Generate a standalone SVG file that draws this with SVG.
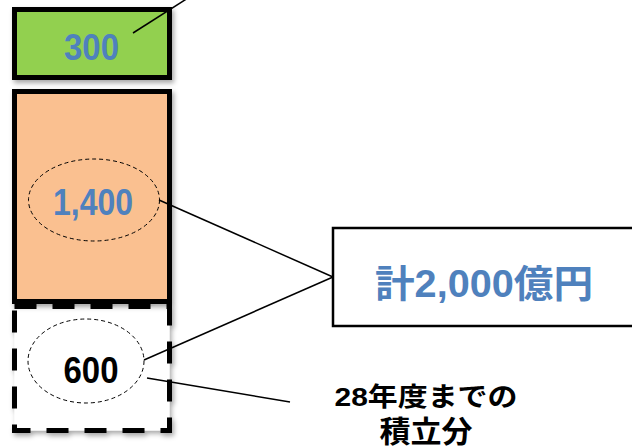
<svg xmlns="http://www.w3.org/2000/svg" width="632" height="448" viewBox="0 0 632 448">
<defs>
<filter id="sh" x="-10%" y="-10%" width="130%" height="130%">
<feDropShadow dx="2" dy="3" stdDeviation="2.5" flood-color="#000" flood-opacity="0.35"/>
</filter>
<style>
.bar{stroke:#000;stroke-width:5}
.oval{fill:none;stroke:#000;stroke-width:1;stroke-dasharray:4 3}
.num{font-family:"Liberation Sans",Arial,sans-serif;font-weight:bold;text-anchor:middle}
.blue{fill:#4F81BD}
.jp{font-family:"Liberation Sans","Noto Sans CJK JP",sans-serif;font-weight:bold;text-anchor:middle}
.con{stroke:#000;stroke-width:1.5;fill:none}
</style>
</defs>
<rect width="632" height="448" fill="#fff"/>
<g id="bar600">
<rect x="14.5" y="306.5" width="155" height="124" fill="#fff" stroke="#000" stroke-width="5" stroke-dasharray="22 16" filter="url(#sh)"/>
<ellipse class="oval" cx="86" cy="361" rx="58" ry="42"/>
<text class="num" x="91" y="383" font-size="36" textLength="55" lengthAdjust="spacingAndGlyphs" fill="#000">600</text>
</g>
<g id="bar1400">
<rect class="bar" x="14.5" y="91.5" width="155" height="210" fill="#FAC090" filter="url(#sh)"/>
<ellipse class="oval" cx="94" cy="200" rx="65.5" ry="41"/>
<text class="num blue" x="93" y="215" font-size="37" textLength="80" lengthAdjust="spacingAndGlyphs">1,400</text>
</g>
<g id="bar300">
<rect class="bar" x="14.5" y="9.5" width="155" height="68" fill="#92D050" filter="url(#sh)"/>
<text class="num blue" x="91.5" y="60" font-size="36" textLength="55" lengthAdjust="spacingAndGlyphs" font-weight="normal">300</text>
</g>
<g id="total">
<rect x="333" y="228" width="310" height="98" fill="#fff" stroke="#000" stroke-width="2.5"/>
<text class="jp blue" x="484" y="297" font-size="38" textLength="218" lengthAdjust="spacingAndGlyphs">計2,000億円</text>
</g>
<g id="label">
<text class="jp" x="426" y="406" font-size="26" textLength="183" lengthAdjust="spacingAndGlyphs" fill="#000">28年度までの</text>
<text class="jp" x="426" y="442" font-size="30" textLength="93" lengthAdjust="spacingAndGlyphs" fill="#000">積立分</text>
</g>
<g id="connectors">
<line class="con" x1="133" y1="33" x2="188" y2="-2"/>
<line class="con" x1="159" y1="200" x2="333" y2="277"/>
<line class="con" x1="144" y1="360" x2="333" y2="277"/>
<line class="con" x1="147" y1="378" x2="290" y2="402"/>
</g>
</svg>
